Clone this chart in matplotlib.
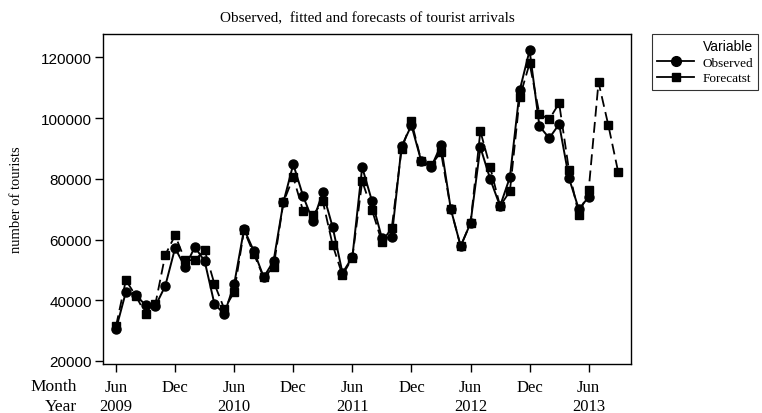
import matplotlib
matplotlib.use("Agg")
import matplotlib.pyplot as plt
import matplotlib.transforms as mtransforms
from matplotlib.lines import Line2D

# monthly values, Jun 2009 onwards
observed = [30500, 42700, 41700, 38400, 38100, 44700, 57200, 50900, 57500, 52900,
            38700, 35500, 45300, 63400, 56200, 47600, 52900, 72300, 84800, 74300,
            66000, 75600, 64100, 49000, 54200, 83800, 72600, 60500, 60800, 90700,
            97600, 85800, 83800, 91100, 70000, 57800, 65400, 90400, 79900, 71000,
            80500, 109200, 122300, 97300, 93400, 98000, 80200, 70000, 74000]
forecast = [31500, 46600, 41500, 35500, 38800, 54900, 61400, 53200, 53200, 56500,
            45300, 37100, 42700, 63000, 55200, 47500, 50900, 72300, 80500, 69400,
            68000, 72600, 58200, 48200, 54000, 79200, 69700, 59200, 63800, 89700,
            99000, 85800, 84500, 88800, 70000, 57800, 65400, 95700, 83800, 71000,
            75900, 106900, 118000, 101300, 99600, 104900, 82800, 68000, 76300,
            111800, 97600, 82200]
month_ticks = ["Jun", "Dec", "Jun", "Dec", "Jun", "Dec", "Jun", "Dec", "Jun"]
year_ticks = ["2009", "", "2010", "", "2011", "", "2012", "", "2013"]
yticks = [20000, 40000, 60000, 80000, 100000, 120000]

serif = "Liberation Serif"
sans = "Liberation Sans"

fig = plt.figure(figsize=(7.62, 4.14), dpi=100)
ax = fig.add_axes([0.1352, 0.1184, 0.6929, 0.7971])

x_obs = list(range(len(observed)))
x_fc = list(range(len(forecast)))
ax.plot(x_obs, observed, color="black", lw=1.4, marker="o", ms=6.5, label="Observed")
ax.plot(x_fc, forecast, color="black", lw=1.3, ls=(0, (6, 3)), marker="s", ms=5.5,
        label="Forecatst")

ax.set_xlim(-1.32, 52.3)
ax.set_ylim(19000, 127700)
ax.set_yticks(yticks)
ax.set_yticklabels([str(v) for v in yticks], fontfamily=sans, fontsize=11)
ax.tick_params(axis="both", direction="out", length=6, width=1, color="black")
ax.tick_params(axis="y", pad=2)
ax.tick_params(axis="x", pad=5)

tick_pos = list(range(0, 49, 6))
ax.set_xticks(tick_pos)
ax.set_xticklabels(month_ticks, fontfamily=serif, fontsize=12)
tr = mtransforms.blended_transform_factory(ax.transData, fig.transFigure)
for p, yr in zip(tick_pos, year_ticks):
    if yr:
        ax.text(p, 1 - 407 / 414, yr, transform=tr, ha="center", va="center",
                fontfamily=serif, fontsize=12)
fig.text(77 / 762, 1 - 387 / 414, "Month", ha="right", va="center",
         fontfamily=serif, fontsize=12.5)
fig.text(77 / 762, 1 - 407 / 414, "Year", ha="right", va="center",
         fontfamily=serif, fontsize=12.5)

for s in ax.spines.values():
    s.set_linewidth(1)
    s.set_color("black")

ax.set_ylabel("number of tourists", fontfamily=serif, fontsize=10.5)
ax.yaxis.set_label_coords(-0.152, 0.5)
ax.set_title("Observed,  fitted and forecasts of tourist arrivals",
             fontfamily=serif, fontsize=11, pad=9)

handles = [Line2D([], [], color="black", lw=1.3, marker="o", ms=7),
           Line2D([], [], color="black", lw=1.3, marker="s", ms=6)]
leg = fig.legend(handles, ["Observed", "Forecatst"], title="Variable",
                 loc="upper left", bbox_to_anchor=(652 / 762, 1 - 35 / 414),
                 frameon=True, fancybox=False, edgecolor="black",
                 prop={"family": serif, "size": 9.5}, handlelength=2.8,
                 handletextpad=0.6, borderpad=0.4, labelspacing=0.25,
                 borderaxespad=0)
leg.get_title().set_fontfamily(sans)
leg.get_title().set_fontsize(10)
leg._legend_box.align = "right"
leg.get_frame().set_linewidth(0.8)

fig.savefig("out.png", dpi=100)
